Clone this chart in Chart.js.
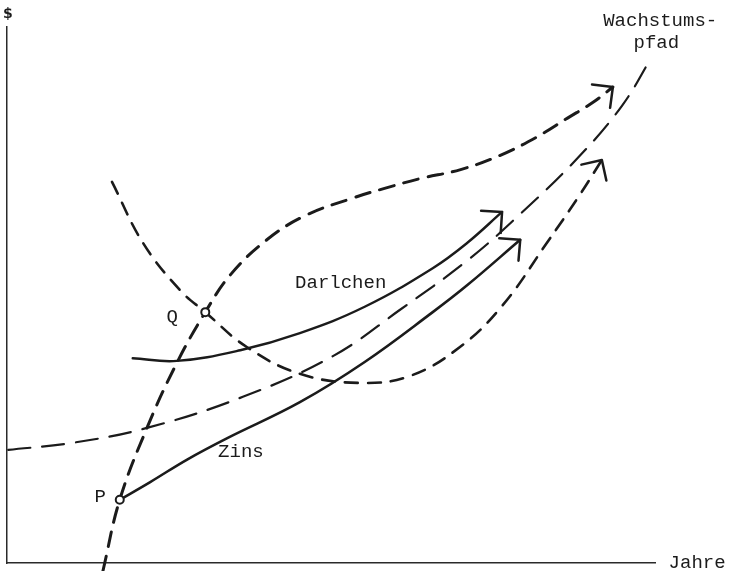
<!DOCTYPE html>
<html>
<head>
<meta charset="utf-8">
<script src="https://cdn.jsdelivr.net/npm/chart.js@4.4.1/dist/chart.umd.min.js"></script>
<style>
    body { margin: 0; background: #fff; }
    #wrap { width: 730px; height: 571px; }
</style>
</head>
<body>
<div id="wrap"><canvas id="chart" width="730" height="571"></canvas></div>
<script>
// x = Jahre (0..100 along the axis), y = $ (0..100 up the axis)

// curve through P and Q, bending right (thick dashes)
const curveA_x = [14.8, 17.4, 21.6, 26.2, 30.6, 34.5, 40.1, 46.0, 53.4, 58.0, 63.7, 70.0, 76.0, 81.5, 86.5, 90.5, 93.5];
const curveA_y = [-1.5, 11.8, 25.2, 37.3, 46.8, 53.8, 60.3, 64.8, 68.1, 69.8, 71.7, 73.4, 76.0, 79.3, 83.0, 86.0, 88.8];

// U-shaped curve falling through Q and rising again
const curveB_x = [16.2, 21.0, 26.7, 30.6, 37.0, 45.2, 54.5, 62.2, 69.9, 76.5, 83.3, 88.4, 91.8];
const curveB_y = [71.1, 59.7, 50.9, 46.8, 40.3, 35.3, 33.6, 34.9, 40.3, 48.1, 59.7, 68.7, 75.2];

// Wachstumspfad
const pfad_x = [0.2, 10.0, 21.6, 36.4, 50.3, 60.6, 71.1, 79.2, 88.1, 94.9, 99.5];
const pfad_y = [21.1, 22.4, 25.2, 31.0, 38.6, 47.2, 56.5, 65.1, 75.6, 85.3, 94.4];

// Darlchen (solid)
const darlehen_x = [19.4, 26.2, 36.0, 45.2, 55.2, 65.7, 71.0, 76.4];
const darlehen_y = [38.2, 37.7, 39.7, 42.9, 47.8, 55.0, 59.7, 65.5];

// Zins (solid, starts at P)
const zins_x = [17.4, 22.1, 27.8, 34.0, 45.2, 55.2, 65.7, 71.0, 79.2];
const zins_y = [11.8, 15.1, 19.3, 23.3, 30.0, 37.5, 46.8, 51.8, 60.3];

// the two marked points P and Q
const marks_x = [17.4, 30.6];
const marks_y = [11.8, 46.8];

// text in the sketch
const labelTexts = ["$", "Wachstums-", "pfad", "Darlchen", "Zins", "P", "Q", "Jahre"];
const labelX = [0.15, 100.8, 100.2, 51.5, 36.1, 14.4, 25.5, 106.5];
const labelY = [102.4, 101.1, 97.0, 52.2, 20.7, 12.3, 45.9, 0];

const ink = "#1b1b1b";

function pairs(xs, ys) {
    return xs.map((x, i) => ({ x: x, y: ys[i] }));
}

function curve(xs, ys, width, dash, arrow) {
    return {
        data: pairs(xs, ys),
        borderColor: ink,
        borderWidth: width,
        borderDash: dash,
        borderCapStyle: "round",
        showLine: true,
        pointRadius: 0,
        tension: 0.4,
        clip: false,
        arrow: arrow
    };
}

const sketchPlugin = {
    id: "sketch",
    afterDatasetsDraw(chart) {
        let ctx = chart.ctx;
        let xs = chart.scales.x, ys = chart.scales.y;

        // open arrow heads at the end of the curves
        chart.data.datasets.forEach((ds, i) => {
            if (!ds.arrow) return;
            let pts = chart.getDatasetMeta(i).data;
            let tip = pts[pts.length - 1], prev = pts[pts.length - 2];
            let ang = Math.atan2(prev.y - tip.y, prev.x - tip.x);
            ctx.save();
            ctx.setLineDash([]);
            ctx.strokeStyle = ink;
            ctx.lineWidth = 2.5;
            ctx.lineCap = "round";
            ctx.beginPath();
            [-0.78, 0.78].forEach(d => {
                ctx.moveTo(tip.x, tip.y);
                ctx.lineTo(tip.x + 21 * Math.cos(ang + d), tip.y + 21 * Math.sin(ang + d));
            });
            ctx.stroke();
            ctx.restore();
        });

        // labels
        ctx.save();
        ctx.fillStyle = ink;
        ctx.textAlign = "center";
        ctx.textBaseline = "middle";
        labelTexts.forEach((t, i) => {
            ctx.font = t === "$" ? "bold 14px 'DejaVu Sans'" : "19px 'Liberation Mono'";
            ctx.fillText(t, xs.getPixelForValue(labelX[i]), ys.getPixelForValue(labelY[i]));
        });
        ctx.restore();
    }
};

const ctx = document.getElementById("chart").getContext("2d");
new Chart(ctx, {
    type: "scatter",
    data: {
        datasets: [
            curve(curveA_x, curveA_y, 3, [15, 10], true),
            curve(curveB_x, curveB_y, 2.6, [13, 10], true),
            curve(pfad_x, pfad_y, 2.2, [22, 12], false),
            curve(darlehen_x, darlehen_y, 2.4, [], true),
            curve(zins_x, zins_y, 2.6, [], true),
            {
                data: pairs(marks_x, marks_y),
                order: -1,
                pointRadius: 4,
                pointBackgroundColor: "#fff",
                pointBorderColor: ink,
                pointBorderWidth: 2,
                showLine: false,
                clip: false
            }
        ]
    },
    options: {
        responsive: false,
        animation: false,
        layout: { padding: { left: 7, right: 75, top: 27, bottom: 8 } },
        plugins: {
            legend: { display: false },
            tooltip: { enabled: false }
        },
        scales: {
            x: {
                type: "linear",
                min: 0,
                max: 100,
                ticks: { display: false },
                grid: { display: false, drawTicks: false },
                border: { display: true, color: "#2a2a2a", width: 1.5 }
            },
            y: {
                type: "linear",
                min: 0,
                max: 100,
                ticks: { display: false },
                grid: { display: false, drawTicks: false },
                border: { display: true, color: "#2a2a2a", width: 1.5 }
            }
        }
    },
    plugins: [sketchPlugin]
});
</script>
</body>
</html>
